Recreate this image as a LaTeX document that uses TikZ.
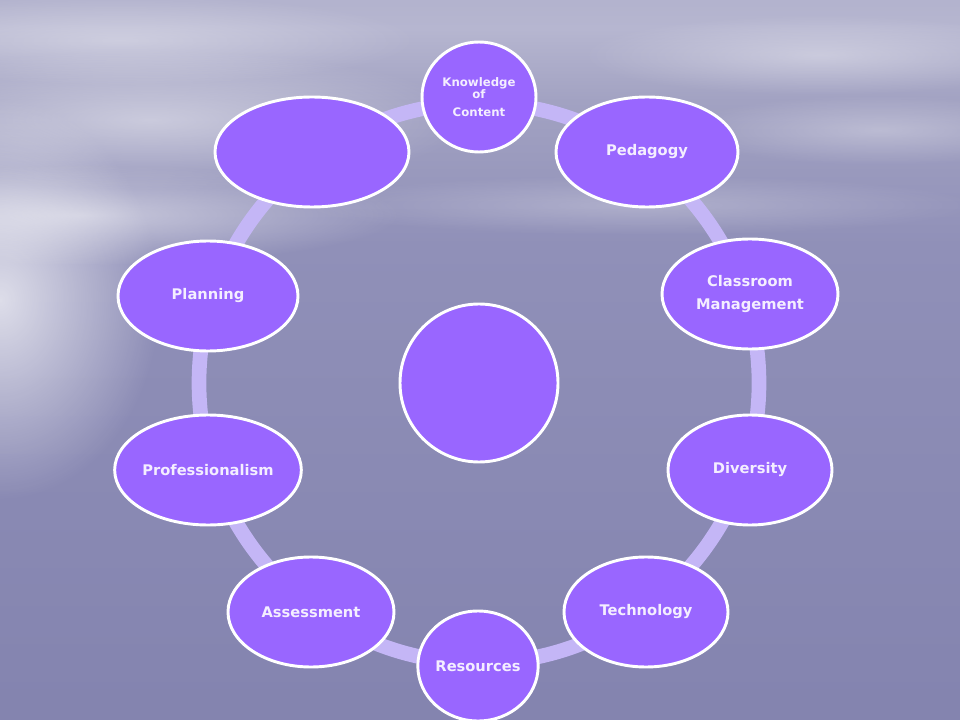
\documentclass[tikz,border=0pt]{standalone}
\usepackage{fontspec}
\setmainfont{DejaVu Sans}
\usetikzlibrary{shapes.geometric,fadings}
\definecolor{ringc}{HTML}{C4B6F6}
\definecolor{nodefill}{HTML}{9966FF}
\definecolor{txtc}{HTML}{F4EEFF}
\definecolor{bga}{HTML}{7A7AA8}
\definecolor{bgb}{HTML}{9090B8}
\definecolor{bgc}{HTML}{A2A2C2}
\definecolor{bgd}{HTML}{B6B6D0}
\definecolor{bge}{HTML}{A6A6C4}
\definecolor{bgf}{HTML}{A0A0C0}
\pgfdeclareverticalshading{bgsh}{100bp}{%
  color(0bp)=(bga);
  color(58bp)=(bgb);
  color(68bp)=(bgc);
  color(73bp)=(bgd);
  color(83bp)=(bge);
  color(100bp)=(bgf)}
\tikzfading[name=softfade, inner color=transparent!0, outer color=transparent!100]
\tikzset{
  blob/.style={ellipse, draw=white, line width=2.2pt, fill=nodefill, inner sep=0pt,
    text=txtc, font=\bfseries\fontsize{11}{13}\selectfont, align=center,
    minimum height=82.5pt},
  glow/.style={fill=white, path fading=softfade},
}
\begin{document}
\begin{tikzpicture}[x=0.75pt,y=-0.75pt]
\useasboundingbox (0,0) rectangle (960,720);
% background
\shade[shading=bgsh] (0,0) rectangle (960,720);
\fill[glow, opacity=0.7] (0,300) ellipse (160 and 200);
\fill[glow, opacity=0.5] (80,215) ellipse (320 and 50);
\fill[glow, opacity=0.45] (150,120) ellipse (320 and 70);
\fill[glow, opacity=0.35] (120,40) ellipse (300 and 45);
\fill[glow, opacity=0.35] (820,55) ellipse (240 and 40);
\fill[glow, opacity=0.3] (880,130) ellipse (200 and 35);
\fill[glow, opacity=0.25] (640,205) ellipse (340 and 30);
% ring
\draw[ringc, line width=11pt] (479,383) circle[radius=280];
% nodes
\node[blob, minimum width=85.5pt, font=\bfseries\fontsize{8.8}{9.5}\selectfont] (know) at (479,97) {Knowledge\\of\\[4pt]Content};
\node[blob, minimum width=136.5pt] (ped) at (647,152) {Pedagogy};
\node[blob, minimum width=132pt] (cls) at (750,294) {Classroom\\[4pt]Management};
\node[blob, minimum width=123pt] (div) at (750,470) {Diversity};
\node[blob, minimum width=123pt] (tech) at (646,612) {Technology};
\node[blob, minimum width=90pt] (res) at (478,666) {Resources};
\node[blob, minimum width=124.5pt] (ass) at (311,612) {Assessment};
\node[blob, minimum width=140pt] (prof) at (208,470) {Professionalism};
\node[blob, minimum width=135pt] (plan) at (208,296) {Planning};
\node[blob, minimum width=145.5pt] (empty) at (312,152) {};
\node[blob, circle, minimum size=118.5pt] (ctr) at (479,383) {};
\end{tikzpicture}
\end{document}
